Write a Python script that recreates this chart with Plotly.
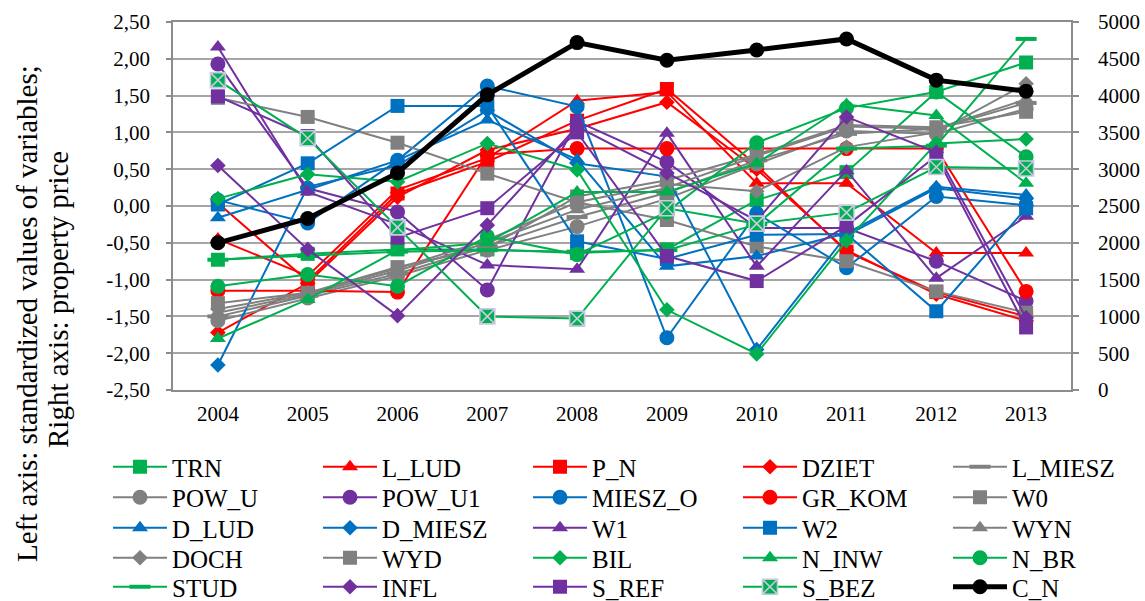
import plotly.graph_objects as go

# ---- data -------------------------------------------------------------
years = ["2004", "2005", "2006", "2007", "2008", "2009", "2010", "2011", "2012", "2013"]

TRN = [-0.73, -0.65, -0.59, -0.59, -0.64, -0.59, 0.08, 0.46, 1.55, 1.95]
L_LUD = [-0.45, -0.95, 0.22, 0.65, 1.43, 1.55, 0.31, 0.31, -0.64, -0.64]
P_N = [0.04, -1.02, 0.17, 0.60, 1.16, 1.59, 0.55, -0.62, -1.17, -1.50]
DZIET = [-1.72, -1.05, 0.12, 0.76, 1.05, 1.41, 0.50, -0.60, -1.20, -1.56]
L_MIESZ = [-1.50, -1.22, -0.92, -0.55, -0.15, 0.18, 0.62, 0.98, 1.05, 1.40]
POW_U = [-1.56, -1.25, -0.95, -0.60, -0.28, 0.10, 0.57, 1.02, 0.98, 1.32]
POW_U1 = [1.93, 0.24, -0.08, -1.14, 1.15, 0.60, -0.30, -0.30, -0.75, -1.29]
MIESZ_O = [0.08, -0.23, 0.62, 1.63, 1.35, -1.79, -0.10, -0.84, 0.13, 0.01]
GR_KOM = [-1.15, -1.15, -1.17, 0.70, 0.78, 0.78, 0.78, 0.78, 0.78, -1.16]
W0 = [1.47, 1.21, 0.86, 0.44, 0.05, -0.19, -0.55, -0.75, -1.16, -1.45]
D_LUD = [-0.16, 0.22, 0.62, 1.17, 0.63, -0.82, -0.68, -0.37, 0.26, 0.15]
D_MIESZ = [-2.16, 0.26, 0.55, 1.30, 0.58, 0.40, -1.95, -0.40, 0.24, 0.10]
W1 = [2.16, 0.19, -0.25, -0.80, -0.86, 0.99, -0.82, 0.48, -0.98, -0.14]
W2 = [0.02, 0.58, 1.36, 1.36, -0.48, -0.72, -0.39, -0.38, -1.43, -0.03]
WYN = [-1.45, -1.20, -0.88, -0.50, -0.05, 0.25, 0.68, 1.08, 1.05, 1.45]
DOCH = [-1.40, -1.18, -0.85, -0.46, 0.05, 0.30, 0.20, 0.80, 1.00, 1.66]
WYD = [-1.32, -1.18, -0.83, -0.57, 0.13, 0.35, 0.70, 1.10, 1.07, 1.28]
BIL = [0.10, 0.43, 0.33, 0.85, 0.49, -1.41, -2.01, -0.47, 0.85, 0.91]
N_INW = [-1.80, -1.27, -0.60, -0.50, 0.19, 0.19, 0.58, 1.38, 1.23, 0.31]
N_BR = [-1.09, -0.93, -1.09, -0.41, -0.66, -0.08, 0.86, 1.33, 1.55, 0.67]
STUD = [-0.73, -0.68, -0.62, -0.60, -0.62, -0.60, -0.25, 0.78, 0.82, 2.27]
INFL = [0.55, -0.59, -1.49, -0.26, 1.08, 0.45, -0.20, 1.21, 0.73, -1.52]
S_REF = [1.49, 0.95, -0.43, -0.03, 1.00, -0.68, -1.02, -0.27, 0.68, -1.65]
S_BEZ = [1.71, 0.92, -0.29, -1.50, -1.53, -0.03, -0.24, -0.09, 0.53, 0.51]
C_N = [2000, 2330, 2950, 4010, 4720, 4480, 4620, 4770, 4210, 4060]

left_ticks = [-2.5, -2.0, -1.5, -1.0, -0.5, 0.0, 0.5, 1.0, 1.5, 2.0, 2.5]
left_labels = ["-2,50", "-2,00", "-1,50", "-1,00", "-0,50", "0,00",
               "0,50", "1,00", "1,50", "2,00", "2,50"]
right_ticks = [0, 500, 1000, 1500, 2000, 2500, 3000, 3500, 4000, 4500, 5000]

# ---- styling ----------------------------------------------------------
GREEN = "#00B050"
RED = "#FF0000"
GRAY = "#808080"
PURPLE = "#7030A0"
BLUE = "#0070C0"
FONT = "Liberation Serif"

series = [
    ("TRN", TRN, GREEN, "square"),
    ("L_LUD", L_LUD, RED, "triangle-up"),
    ("P_N", P_N, RED, "square"),
    ("DZIET", DZIET, RED, "diamond"),
    ("L_MIESZ", L_MIESZ, GRAY, "line-ew"),
    ("POW_U", POW_U, GRAY, "circle"),
    ("POW_U1", POW_U1, PURPLE, "circle"),
    ("MIESZ_O", MIESZ_O, BLUE, "circle"),
    ("GR_KOM", GR_KOM, RED, "circle"),
    ("W0", W0, GRAY, "square"),
    ("D_LUD", D_LUD, BLUE, "triangle-up"),
    ("D_MIESZ", D_MIESZ, BLUE, "diamond"),
    ("W1", W1, PURPLE, "triangle-up"),
    ("W2", W2, BLUE, "square"),
    ("WYN", WYN, GRAY, "triangle-up"),
    ("DOCH", DOCH, GRAY, "diamond"),
    ("WYD", WYD, GRAY, "square"),
    ("BIL", BIL, GREEN, "diamond"),
    ("N_INW", N_INW, GREEN, "triangle-up"),
    ("N_BR", N_BR, GREEN, "circle"),
    ("STUD", STUD, GREEN, "line-ew"),
    ("INFL", INFL, PURPLE, "diamond"),
    ("S_REF", S_REF, PURPLE, "square"),
    ("S_BEZ", S_BEZ, GREEN, "square-x"),
]

marker_size = {"square": 14, "circle": 15, "triangle-up": 14, "diamond": 12,
               "line-ew": 15, "square-x": 15}

# legend grid: 5 columns x 5 rows; columns 1-4 of a row share one
# horizontal legend, the fifth column gets its own legend per row
N_COLS = 5


def legend_key(n):
    return "legend" if n == 1 else f"legend{n}"


def legend_id(i):
    row, col = divmod(i, N_COLS)
    return legend_key(row + 1) if col < N_COLS - 1 else legend_key(row + 6)


fig = go.Figure()

for i, (name, vals, color, sym) in enumerate(series):
    if sym == "line-ew":
        mk = dict(symbol=sym, size=marker_size[sym], color=color,
                  line=dict(color=color, width=4))
    elif sym == "square-x":
        mk = dict(symbol=sym, size=marker_size[sym], color=color,
                  line=dict(color="#C8C8E2", width=1.6))
    else:
        mk = dict(symbol=sym, size=marker_size[sym], color=color,
                  line=dict(width=0))
    fig.add_trace(go.Scatter(
        x=years, y=vals, name=name, mode="lines+markers",
        line=dict(color=color, width=2), marker=mk,
        legend=legend_id(i),
    ))

# property price on the secondary axis
fig.add_trace(go.Scatter(
    x=years, y=C_N, name="C_N", mode="lines+markers", yaxis="y2",
    line=dict(color="black", width=5),
    marker=dict(symbol="circle", size=15, color="black"),
    legend=legend_id(24),
))

# ---- layout -----------------------------------------------------------
L, R, T, B = 173, 74, 22, 211
W, H = 1145, 601
plot_w = W - L - R
plot_h = H - T - B


def px_to_paper_x(px):
    return (px - L) / plot_w


def px_to_paper_y(py):
    return (H - B - py) / plot_h


legend_rows = [467, 497.5, 528, 558, 587]
COL_STEP = 210
LEGEND_LEFT = 108
legend_common = dict(
    orientation="h", xanchor="left", yanchor="middle",
    xref="container", yref="container",
    font=dict(family=FONT, size=25, color="black"),
    bgcolor="rgba(0,0,0,0)", borderwidth=0,
    entrywidthmode="pixels", itemwidth=54,
    tracegroupgap=0,
)
legend_layout = {}
for r, yc in enumerate(legend_rows):
    legend_layout[legend_key(r + 1)] = dict(
        legend_common, x=LEGEND_LEFT / W, y=1 - yc / H, entrywidth=141)
    legend_layout[legend_key(r + 6)] = dict(
        legend_common, x=(LEGEND_LEFT + 4 * COL_STEP) / W, y=1 - yc / H,
        entrywidth=0)

fig.update_layout(
    width=W, height=H, autosize=False,
    margin=dict(l=L, r=R, t=T, b=B, pad=0, autoexpand=False),
    paper_bgcolor="white", plot_bgcolor="white",
    font=dict(family=FONT, size=21, color="black"),
    showlegend=True,
    xaxis=dict(
        type="category", range=[-0.5, 9.5],
        showgrid=False, showline=True, linecolor="#8C8C8C", linewidth=1.5,
        mirror=True, ticks="", ticklabelstandoff=4,
        tickfont=dict(family=FONT, size=21, color="black"),
    ),
    yaxis=dict(
        range=[-2.5, 2.5], tickvals=left_ticks, ticktext=left_labels,
        showgrid=True, gridcolor="#A6A6A6", gridwidth=1.5,
        zeroline=False, showline=True, linecolor="#8C8C8C", linewidth=1.5,
        ticks="outside", ticklen=5, tickcolor="#8C8C8C", tickwidth=1.5,
        ticklabelstandoff=12,
        tickfont=dict(family=FONT, size=21, color="black"),
    ),
    yaxis2=dict(
        range=[0, 5000], tickvals=right_ticks, overlaying="y", side="right",
        showgrid=False, zeroline=False, showline=True,
        linecolor="#8C8C8C", linewidth=1.5,
        ticks="outside", ticklen=6, tickcolor="#8C8C8C", tickwidth=1.5,
        ticklabelstandoff=15,
        tickfont=dict(family=FONT, size=21, color="black"),
    ),
    **legend_layout,
)

# two-line rotated axis caption
fig.add_annotation(
    text="Left axis: standardized values of variables;",
    xref="paper", yref="paper", x=px_to_paper_x(27), y=px_to_paper_y(314),
    xanchor="center", yanchor="middle", textangle=-90, showarrow=False,
    font=dict(family=FONT, size=29, color="black"),
)
fig.add_annotation(
    text="Right axis: property price",
    xref="paper", yref="paper", x=px_to_paper_x(58), y=px_to_paper_y(300),
    xanchor="center", yanchor="middle", textangle=-90, showarrow=False,
    font=dict(family=FONT, size=29, color="black"),
)

fig.write_html("out.html")
